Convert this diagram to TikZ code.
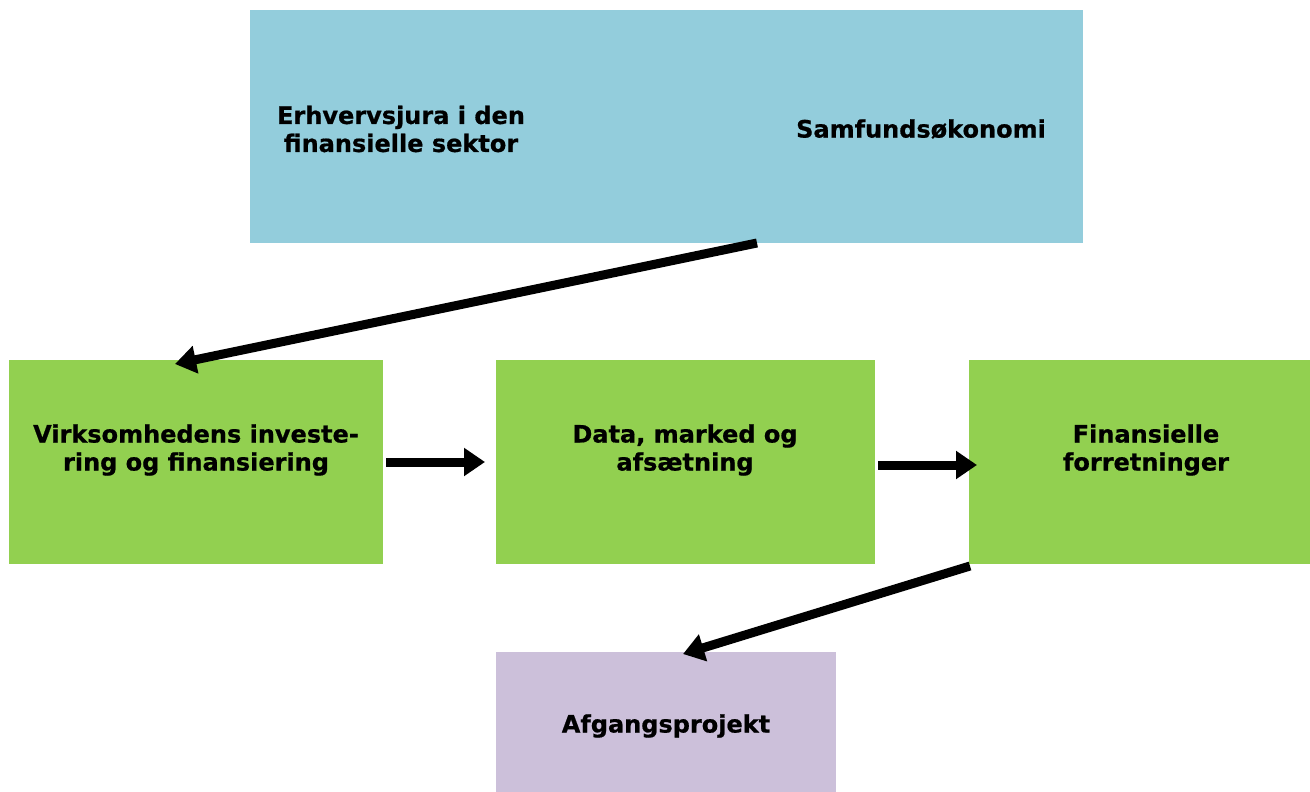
\documentclass[tikz,border=0pt]{standalone}
\usepackage{fontspec}
\setmainfont[BoldFeatures={FakeBold=0.7}]{DejaVu Sans}
\usetikzlibrary{arrows.meta}
\definecolor{cblue}{HTML}{93CDDC}
\definecolor{cgreen}{HTML}{92D050}
\definecolor{cpurple}{HTML}{CCC0DA}
\begin{document}
\begin{tikzpicture}[x=1pt,y=-1pt,
  lbl/.style={font=\bfseries\fontsize{24}{28}\selectfont, align=center, text=black},
  conn/.style={line width=9pt, -{Triangle[length=21pt,width=27pt]}}]
\useasboundingbox (0,0) rectangle (1310,792);
\fill[cblue] (250,10) rectangle (1083,243);
\fill[cgreen] (9,360) rectangle (383,564);
\fill[cgreen] (496,360) rectangle (875,564);
\fill[cgreen] (969,360) rectangle (1310,564);
\fill[cpurple] (496,652) rectangle (836,792);
\node[lbl] (t1) at (401,129) {Erhvervsjura i den\\finansielle sektor};
\node[lbl] (t2) at (921,129) {Samfundsøkonomi};
\node[lbl] (g1) at (196,450) {Virksomhedens investe-\\ring og finansiering};
\node[lbl] (g2) at (685,450) {Data, marked og\\afsætning};
\node[lbl] (g3) at (1146,450) {Finansielle\\forretninger};
\node[lbl] (p1) at (666,726) {Afgangsprojekt};
\coordinate (a1s) at (757,243);
\coordinate (a1e) at (175,364);
\coordinate (a2s) at (386,462);
\coordinate (a2e) at (485,462);
\coordinate (a3s) at (878,465);
\coordinate (a3e) at (977,465);
\coordinate (a4s) at (970,566);
\coordinate (a4e) at (683,654);
\draw[conn] (a1s) -- (a1e);
\draw[conn] (a2s) -- (a2e);
\draw[conn] (a3s) -- (a3e);
\draw[conn] (a4s) -- (a4e);
\end{tikzpicture}
\end{document}
